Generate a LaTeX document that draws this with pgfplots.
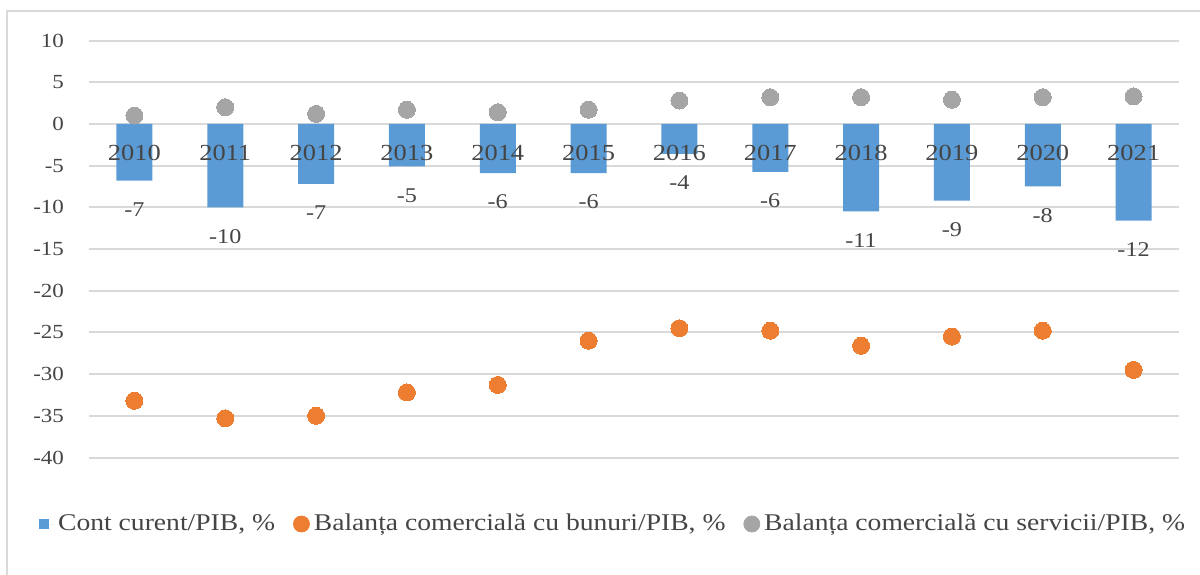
\documentclass[border=0pt]{standalone}
\usepackage{fontspec}
\setmainfont{Liberation Serif}[FakeStretch=1.15]
\usepackage{pgfplots}
\pgfplotsset{compat=1.18}
\definecolor{barblue}{HTML}{5B9BD5}
\definecolor{dotorange}{HTML}{ED7D31}
\definecolor{dotgray}{HTML}{A5A5A5}
\definecolor{gridgray}{HTML}{D9D9D9}
\definecolor{txt}{HTML}{454545}

\begin{document}
\begin{tikzpicture}
\useasboundingbox (0,0) rectangle (600pt,-287pt);
% outer chart frame (only top and left edges are visible)
\draw[gridgray, line width=1pt] (3.5pt,-300pt) -- (3.5pt,-5.5pt) -- (610pt,-5.5pt);
\begin{axis}[
    at={(44.5pt,-20.25pt)}, anchor=north west,
    scale only axis, width=545pt, height=208.5pt,
    xmin=-0.5, xmax=11.5, ymin=-40, ymax=10,
    axis lines=left,
    axis line style={draw=none},
    major tick length=0pt,
    xtick=\empty,
    ytick={-40,-35,-30,-25,-20,-15,-10,-5,0,5,10},
    ymajorgrids, grid style={gridgray, line width=1pt},
    /pgf/number format/assume math mode=true,
    tick label style={text=txt},
    yticklabel style={font=\fontsize{10}{12}\selectfont, xshift=-9pt},
    legend columns=3,
    legend style={at={(0.4817,-0.1595)}, anchor=center, draw=none, fill=none,
        font=\fontsize{12}{14}\selectfont, text=txt,
        /tikz/every even column/.append style={column sep=7pt}},
]
% Cont curent/PIB
\addplot[ybar, bar width=18pt, fill=barblue, draw=none,
    nodes near coords, point meta=explicit symbolic,
    every node near coord/.append style={anchor=center, yshift=-14.5pt, text=txt,
        font=\fontsize{10.5}{12}\selectfont},
    legend image code/.code={\fill[barblue] (0pt,-2.5pt) rectangle (5pt,2.5pt);
        \path (0pt,0pt) -- (7.5pt,0pt);}]
coordinates {
    (0,-6.8)[-7] (1,-10.0)[-10] (2,-7.2)[-7] (3,-5.1)[-5] (4,-5.9)[-6] (5,-5.9)[-6]
    (6,-3.6)[-4] (7,-5.75)[-6] (8,-10.5)[-11] (9,-9.2)[-9] (10,-7.5)[-8] (11,-11.6)[-12]
};
\addlegendentry{Cont curent/PIB, \%}
% Balanta comerciala cu bunuri/PIB
\addplot[only marks, mark=*, mark size=4.25pt, mark options={fill=dotorange, draw=dotorange, line width=0pt},
    legend image code/.code={\fill[dotorange] (4pt,0pt) circle (4pt);}]
coordinates {
    (0,-33.2) (1,-35.3) (2,-35.0) (3,-32.2) (4,-31.3) (5,-26.0)
    (6,-24.5) (7,-24.8) (8,-26.6) (9,-25.5) (10,-24.8) (11,-29.5)
};
\addlegendentry{Balanța comercială cu bunuri/PIB, \%}
% Balanta comerciala cu servicii/PIB
\addplot[only marks, mark=*, mark size=4.25pt, mark options={fill=dotgray, draw=dotgray, line width=0pt},
    legend image code/.code={\fill[dotgray] (4pt,0pt) circle (4pt);}]
coordinates {
    (0,1.0) (1,2.0) (2,1.2) (3,1.7) (4,1.4) (5,1.7)
    (6,2.8) (7,3.2) (8,3.2) (9,2.9) (10,3.2) (11,3.3)
};
\addlegendentry{Balanța comercială cu servicii/PIB, \%}
% category labels, set at the zero line over the bars
\addplot[draw=none, mark=none, forget plot,
    nodes near coords, point meta=explicit symbolic,
    every node near coord/.append style={anchor=center, yshift=-14.4pt, text=txt,
        font=\fontsize{11.5}{13}\selectfont}]
coordinates {
    (0,0)[2010] (1,0)[2011] (2,0)[2012] (3,0)[2013] (4,0)[2014] (5,0)[2015]
    (6,0)[2016] (7,0)[2017] (8,0)[2018] (9,0)[2019] (10,0)[2020] (11,0)[2021]
};
\end{axis}
\end{tikzpicture}
\end{document}
